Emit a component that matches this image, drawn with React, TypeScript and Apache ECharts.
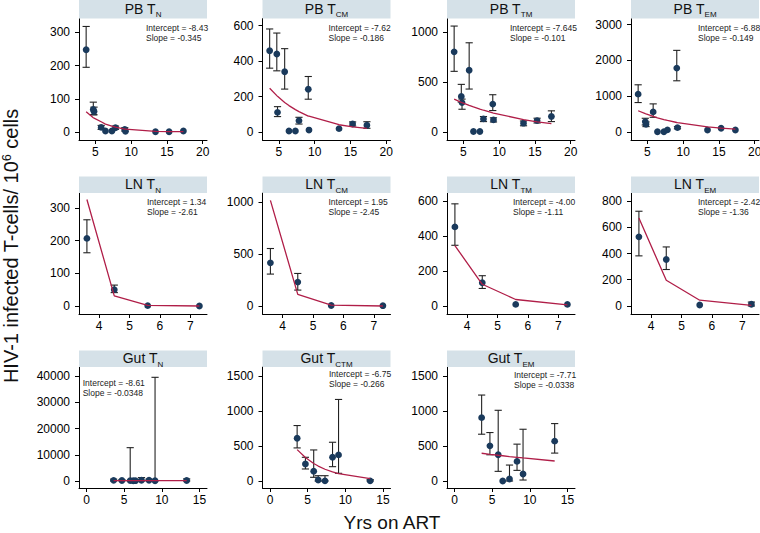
import React, { useEffect, useRef } from "react";
import * as echarts from "echarts";

const FONT = "'Liberation Sans', Arial, Helvetica, sans-serif";

// ---------- data ----------
const pbXTicks = [5, 10, 15, 20];
const lnXTicks = [4, 5, 6, 7];
const gutXTicks = [0, 5, 10, 15];

const pbX = [3.7, 4.7, 4.8, 5.8, 6.4, 7.3, 7.8, 9.1, 9.2, 13.4, 15.3, 17.3];
const pbTnY = [248, 68, 62, 14, 3, 3, 13, 8, 2, 1, 1, 3];
const pbTnLo = [195, 52, 52, 8, null, null, 8, 3, null, null, null, null];
const pbTnHi = [318, 90, 75, 20, null, null, 18, 13, null, null, null, null];
const pbTnFit = [61, 43, 42, 31, 24, 18, 15, 9, 9, 2, 1, 1];
const pbTnTicks = [0, 100, 200, 300];

const pbTcmY = [458, 440, 111, 340, 6, 6, 64, 241, 11, 19, 45, 38];
const pbTcmLo = [360, 345, 87, 242, null, null, 45, 185, null, null, 34, 21];
const pbTcmHi = [581, 558, 143, 470, null, null, 83, 313, null, null, 57, 58];
const pbTcmFit = [247, 205, 201, 167, 149, 126, 115, 90, 89, 41, 29, 20];
const pbTcmTicks = [0, 200, 400, 600];

const pbTtmY = [805, 357, 295, 620, 5, 5, 131, 280, 121, 88, 114, 155];
const pbTtmLo = [609, 300, 228, 431, null, null, 104, 215, 100, 62, 90, 104];
const pbTtmHi = [1064, 478, 330, 896, null, null, 155, 374, 142, 110, 138, 212];
const pbTtmFit = [329, 298, 295, 266, 251, 229, 218, 191, 189, 124, 102, 83];
const pbTtmTicks = [0, 500, 1000];

const pbTemY = [1056, 290, 215, 561, 5, 5, 60, 1785, 121, 56, 103, 56];
const pbTemLo = [822, 196, 150, 410, null, null, null, 1430, 90, null, null, null];
const pbTemHi = [1318, 383, 280, 785, null, null, null, 2280, 150, null, null, null];
const pbTemFit = [593, 511, 503, 433, 396, 347, 322, 265, 261, 140, 105, 78];
const pbTemTicks = [0, 1000, 2000, 3000];

const lnX = [3.6, 4.5, 5.6, 7.3];
const lnTnY = [207, 50, 1, 0];
const lnTnLo = [163, 41, null, null];
const lnTnHi = [264, 64, null, null];
const lnTnFit = [326, 31, 2, 0];
const lnTnTicks = [0, 100, 200, 300];

const lnTcmY = [415, 230, 5, 3];
const lnTcmLo = [307, 153, null, null];
const lnTcmHi = [553, 313, null, null];
const lnTcmFit = [1016, 112, 8, 0];
const lnTcmTicks = [0, 500, 1000];

const lnTtmY = [452, 133, 9, 9];
const lnTtmLo = [347, 100, null, null];
const lnTtmHi = [584, 173, null, null];
const lnTtmFit = [345, 124, 37, 6];
const lnTtmTicks = [0, 200, 400, 600];

const lnTemY = [527, 354, 8, 13];
const lnTemLo = [382, 278, null, 0];
const lnTemHi = [722, 450, null, 30];
const lnTemFit = [670, 196, 44, 4];
const lnTemTicks = [0, 200, 400, 600, 800];

const gutTnX = [3.6, 4.7, 5.8, 6.2, 6.5, 7.3, 8.3, 9.1, 13.3];
const gutTnY = [250, 200, 150, 100, 120, 300, 300, 100, 200];
const gutTnLo = [0, 50, 0, 0, 0, 0, 50, 0, 0];
const gutTnHi = [700, 500, 12700, 400, 500, 1300, 700, 39500, 800];
const gutTnFit = [161, 155, 149, 147, 145, 142, 137, 133, 115];
const gutTnTicks = [0, 10000, 20000, 30000, 40000];

const gutX = [3.6, 4.7, 5.8, 6.4, 7.3, 8.3, 9.1, 13.3];
const gutTctmY = [611, 244, 139, 14, 2, 339, 373, 2];
const gutTctmLo = [473, 172, 53, 0, 0, 205, 110, 0];
const gutTctmHi = [793, 339, 444, 76, 76, 554, 1166, 20];
const gutTctmFit = [449, 335, 251, 214, 168, 129, 104, 34];
const gutTctmTicks = [0, 500, 1000, 1500];

const gutTemY = [906, 503, 375, 0, 28, 280, 100, 570];
const gutTemLo = [669, 375, 138, null, 0, 152, 14, 399];
const gutTemHi = [1229, 693, 1011, null, 228, 527, 740, 821];
const gutTemFit = [397, 382, 368, 361, 350, 339, 330, 286];
const gutTemTicks = [0, 500, 1000, 1500];

// ---------- layout ----------
const COLS = [79, 262.5, 447, 631];
const PW = 128;
const ROWS = [
  { top: 18.5, height: 121.5, headerTop: 0, xMin: 2.7, xMax: 20.6, xTicks: pbXTicks },
  { top: 193, height: 121, headerTop: 176.5, xMin: 3.34, xMax: 7.55, xTicks: lnXTicks },
  { top: 367, height: 121, headerTop: 350.5, xMin: -1, xMax: 16, xTicks: gutXTicks },
];

type Panel = {
  pre: string; sub: string; row: number; col: number;
  x: number[]; y: number[]; lo: (number | null)[]; hi: (number | null)[]; fit: number[];
  ticks: number[]; yMin: number; yMax: number;
  icpt: string; slope: string; tdx: number; tdy: number;
};

const panels: Panel[] = [
  { pre: "PB T", sub: "N", row: 0, col: 0, x: pbX, y: pbTnY, lo: pbTnLo, hi: pbTnHi, fit: pbTnFit, ticks: pbTnTicks, yMin: -24, yMax: 342, icpt: "-8.43", slope: "-0.345", tdx: 67, tdy: 5 },
  { pre: "PB T", sub: "CM", row: 0, col: 1, x: pbX, y: pbTcmY, lo: pbTcmLo, hi: pbTcmHi, fit: pbTcmFit, ticks: pbTcmTicks, yMin: -45, yMax: 640, icpt: "-7.62", slope: "-0.186", tdx: 66, tdy: 5 },
  { pre: "PB T", sub: "TM", row: 0, col: 2, x: pbX, y: pbTtmY, lo: pbTtmLo, hi: pbTtmHi, fit: pbTtmFit, ticks: pbTtmTicks, yMin: -81, yMax: 1140, icpt: "-7.645", slope: "-0.101", tdx: 63, tdy: 5 },
  { pre: "PB T", sub: "EM", row: 0, col: 3, x: pbX, y: pbTemY, lo: pbTemLo, hi: pbTemHi, fit: pbTemFit, ticks: pbTemTicks, yMin: -224, yMax: 3170, icpt: "-6.88", slope: "-0.149", tdx: 67, tdy: 5 },
  { pre: "LN T", sub: "N", row: 1, col: 0, x: lnX, y: lnTnY, lo: lnTnLo, hi: lnTnHi, fit: lnTnFit, ticks: lnTnTicks, yMin: -24.5, yMax: 346, icpt: "1.34", slope: "-2.61", tdx: 68, tdy: 4.5 },
  { pre: "LN T", sub: "CM", row: 1, col: 1, x: lnX, y: lnTcmY, lo: lnTcmLo, hi: lnTcmHi, fit: lnTcmFit, ticks: lnTcmTicks, yMin: -77, yMax: 1087, icpt: "1.95", slope: "-2.45", tdx: 66, tdy: 4.5 },
  { pre: "LN T", sub: "TM", row: 1, col: 2, x: lnX, y: lnTtmY, lo: lnTtmLo, hi: lnTtmHi, fit: lnTtmFit, ticks: lnTtmTicks, yMin: -46, yMax: 646, icpt: "-4.00", slope: "-1.11", tdx: 66, tdy: 4.5 },
  { pre: "LN T", sub: "EM", row: 1, col: 3, x: lnX, y: lnTemY, lo: lnTemLo, hi: lnTemHi, fit: lnTemFit, ticks: lnTemTicks, yMin: -61, yMax: 861, icpt: "-2.42", slope: "-1.36", tdx: 67, tdy: 4.5 },
  { pre: "Gut T", sub: "N", row: 2, col: 0, x: gutTnX, y: gutTnY, lo: gutTnLo, hi: gutTnHi, fit: gutTnFit, ticks: gutTnTicks, yMin: -2667, yMax: 43430, icpt: "-8.61", slope: "-0.0348", tdx: 3.7, tdy: 11.5 },
  { pre: "Gut T", sub: "CTM", row: 2, col: 1, x: gutX, y: gutTctmY, lo: gutTctmLo, hi: gutTctmHi, fit: gutTctmFit, ticks: gutTctmTicks, yMin: -100, yMax: 1630, icpt: "-6.75", slope: "-0.266", tdx: 66.5, tdy: 2.5 },
  { pre: "Gut T", sub: "EM", row: 2, col: 2, x: gutX, y: gutTemY, lo: gutTemLo, hi: gutTemHi, fit: gutTemFit, ticks: gutTemTicks, yMin: -100, yMax: 1630, icpt: "-7.71", slope: "-0.0338", tdx: 67, tdy: 3.5 },
];

const MARKER = "#1a3a5c";
const FITC = "#b01e48";
const STRIP = "#d5e1e8";

function buildOption() {
  const grid: any[] = [];
  const xAxis: any[] = [];
  const yAxis: any[] = [];
  const series: any[] = [];
  const graphic: any[] = [];
  const fmt = (v: number) => String(v);

  panels.forEach((p, i) => {
    const r = ROWS[p.row];
    const left = COLS[p.col];
    grid.push({ left, top: r.top, width: PW, height: r.height, outerBoundsMode: "none", containLabel: false });
    const axisCommon = {
      axisLine: { show: true, onZero: false, lineStyle: { color: "#000", width: 1 } },
      axisTick: { show: true, inside: false, length: 4, lineStyle: { color: "#000", width: 1 } },
      splitLine: { show: false },
    };
    xAxis.push({
      type: "value", gridIndex: i, min: r.xMin, max: r.xMax,
      ...axisCommon,
      axisTick: { ...axisCommon.axisTick, customValues: r.xTicks },
      axisLabel: { customValues: r.xTicks, formatter: fmt, fontSize: 12, color: "#000", fontFamily: FONT, margin: 6 },
    });
    yAxis.push({
      type: "value", gridIndex: i, min: p.yMin, max: p.yMax,
      ...axisCommon,
      axisTick: { ...axisCommon.axisTick, customValues: p.ticks },
      axisLabel: { customValues: p.ticks, formatter: fmt, fontSize: 12, color: "#000", fontFamily: FONT, margin: 9 },
    });

    const bars: number[][] = [];
    p.x.forEach((xv, k) => {
      const lo = p.lo[k];
      const hi = p.hi[k];
      if (lo !== null && hi !== null) bars.push([xv, lo, hi]);
    });
    series.push({
      type: "custom", xAxisIndex: i, yAxisIndex: i, data: bars, z: 2,
      renderItem: (_params: any, api: any) => {
        const xv = api.value(0);
        const a = api.coord([xv, api.value(1)]);
        const b = api.coord([xv, api.value(2)]);
        const w = 3.6;
        const style = { stroke: "#222", lineWidth: 1.1 };
        return {
          type: "group",
          children: [
            { type: "line", shape: { x1: a[0], y1: a[1], x2: b[0], y2: b[1] }, style },
            { type: "line", shape: { x1: a[0] - w, y1: a[1], x2: a[0] + w, y2: a[1] }, style },
            { type: "line", shape: { x1: b[0] - w, y1: b[1], x2: b[0] + w, y2: b[1] }, style },
          ],
        };
      },
    });
    series.push({
      type: "scatter", xAxisIndex: i, yAxisIndex: i, z: 3,
      data: p.x.map((xv, k) => [xv, p.y[k]]),
      symbol: "circle", symbolSize: 6.8,
      itemStyle: { color: MARKER, opacity: 1 },
    });
    series.push({
      type: "line", xAxisIndex: i, yAxisIndex: i, z: 4,
      data: p.x.map((xv, k) => [xv, p.fit[k]]),
      showSymbol: false, symbol: "none",
      lineStyle: { color: FITC, width: 1.3 },
    });

    // strip header
    graphic.push({
      type: "rect", shape: { x: left, y: r.headerTop, width: PW, height: r.top - r.headerTop },
      style: { fill: STRIP }, z: 1,
    });
    const hc = (r.headerTop + r.top) / 2;
    graphic.push({
      type: "text", x: left + PW / 2, y: hc + 1, z: 5,
      style: {
        text: `{m|${p.pre}}{s|${p.sub}}`,
        align: "center", verticalAlign: "middle",
        rich: {
          m: { fontSize: 14, lineHeight: 14, verticalAlign: "top", fontFamily: FONT, fill: "#111" },
          s: { fontSize: 8, lineHeight: 17, verticalAlign: "bottom", fontFamily: FONT, fill: "#111" },
        },
      },
    });
    graphic.push({
      type: "text", x: left + p.tdx, y: r.top + p.tdy, z: 5,
      style: {
        text: `Intercept = ${p.icpt}\nSlope = ${p.slope}`,
        fontSize: 8.5, lineHeight: 9.5, fontFamily: FONT, fill: "#222",
        align: "left", verticalAlign: "top",
      },
    });
  });

  graphic.push({
    type: "text", x: 11, y: 246, rotation: Math.PI / 2, z: 5,
    style: {
      text: "{m|HIV-1 infected T-cells/ 10}{s|6}{m| cells}",
      align: "center", verticalAlign: "middle",
      rich: {
        m: { fontSize: 20, lineHeight: 20, verticalAlign: "bottom", fontFamily: FONT, fill: "#111" },
        s: { fontSize: 12, lineHeight: 12, verticalAlign: "top", fontFamily: FONT, fill: "#111" },
      },
    },
  });
  graphic.push({
    type: "text", x: 392, y: 522, z: 5,
    style: {
      text: "Yrs on ART", fontSize: 19, fontFamily: FONT, fill: "#111",
      align: "center", verticalAlign: "middle",
    },
  });

  return {
    animation: false,
    backgroundColor: "#fff",
    grid, xAxis, yAxis, series, graphic,
  };
}

export default function App() {
  const ref = useRef<HTMLDivElement>(null);
  useEffect(() => {
    document.body.style.margin = "0";
    if (!ref.current) return;
    const chart = echarts.init(ref.current, undefined, { renderer: "svg" });
    chart.setOption(buildOption() as any);
    return () => chart.dispose();
  }, []);
  return <div ref={ref} style={{ width: 760, height: 533 }} />;
}
